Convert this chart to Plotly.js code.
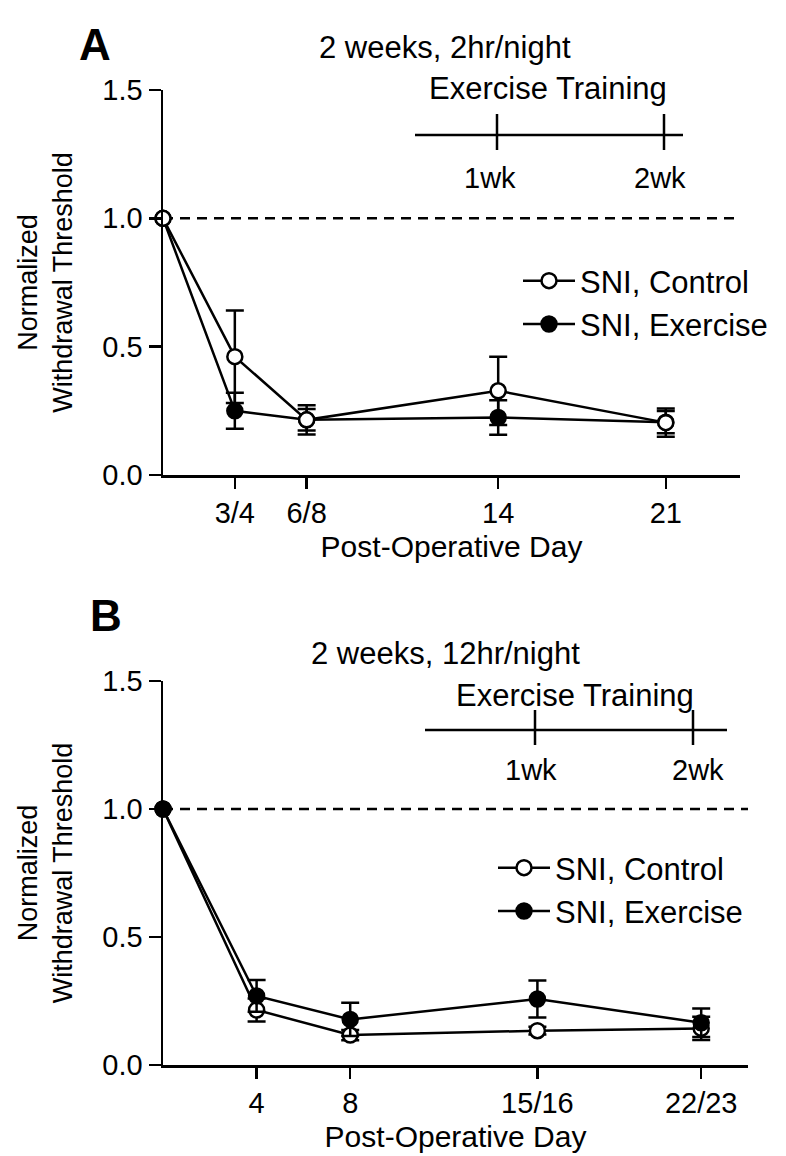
<!DOCTYPE html>
<html>
<head>
<meta charset="utf-8">
<script src="https://cdn.plot.ly/plotly-3.0.1.min.js"></script>
<style>
  html, body { margin: 0; padding: 0; background: #fff; }
  #chart { width: 786px; height: 1156px; }
</style>
</head>
<body>
<div id="chart"></div>
<script>
// ---------- Panel A data (2 weeks, 2hr/night) ----------
const daysA = [0, 3, 6, 14, 21];
const tickValsA = [3, 6, 14, 21];
const tickTextA = ["3/4", "6/8", "14", "21"];
const controlA = [1.0, 0.461, 0.215, 0.328, 0.204];
const controlErrA = [0, 0.18, 0.057, 0.133, 0.055];
const exerciseA = [1.0, 0.25, 0.215, 0.224, 0.206];
const exerciseErrA = [0, 0.07, 0.042, 0.067, 0.043];

// ---------- Panel B data (2 weeks, 12hr/night) ----------
const daysB = [0, 4, 8, 16, 23];
const tickValsB = [4, 8, 16, 23];
const tickTextB = ["4", "8", "15/16", "22/23"];
const controlB = [1.0, 0.215, 0.117, 0.134, 0.143];
const controlErrB = [0, 0.045, 0.02, 0.015, 0.045];
const exerciseB = [1.0, 0.27, 0.178, 0.258, 0.165];
const exerciseErrB = [0, 0.062, 0.065, 0.072, 0.056];

const yTickVals = [0, 0.5, 1.0, 1.5];
const yTickText = ["0.0", "0.5", "1.0", "1.5"];
const baseline = 1.0;

const FONT = "Liberation Sans, Arial, Helvetica, sans-serif";
const W = 786, H = 1156;
const px = v => v / W;
const py = v => 1 - v / H;

function series(x, y, err, name, fill, xa, ya, legend) {
  return {
    type: "scatter", mode: "lines+markers",
    x: x, y: y, name: name,
    xaxis: xa, yaxis: ya, legend: legend,
    cliponaxis: false,
    line: { color: "#000", width: 2.5 },
    marker: { symbol: "circle", size: 15, color: fill, line: { color: "#000", width: 2.5 } },
    error_y: { type: "data", array: err, visible: true, color: "#000", thickness: 2.5, width: 9 }
  };
}

const data = [
  series(daysA, exerciseA, exerciseErrA, "SNI, Exercise", "#000", "x", "y", "legend"),
  series(daysA, controlA, controlErrA, "SNI, Control", "#fff", "x", "y", "legend"),
  series(daysB, controlB, controlErrB, "SNI, Control", "#fff", "x2", "y2", "legend2"),
  series(daysB, exerciseB, exerciseErrB, "SNI, Exercise", "#000", "x2", "y2", "legend2")
];

function xAxis(domain, range, vals, text, anchor) {
  return {
    domain: domain, range: range, anchor: anchor,
    showgrid: false, zeroline: false,
    showline: true, linecolor: "#000", linewidth: 2.5,
    ticks: "outside", ticklen: 11, tickwidth: 2.5, tickcolor: "#000",
    tickvals: vals, ticktext: text,
    tickfont: { family: FONT, size: 29, color: "#000" },
    title: { text: "Post-Operative Day", font: { family: FONT, size: 30, color: "#000" }, standoff: 8 },
    automargin: false, fixedrange: true
  };
}
function yAxis(domain, anchor) {
  return {
    domain: domain, range: [0, 1.5], anchor: anchor,
    showgrid: false, zeroline: false,
    showline: true, linecolor: "#000", linewidth: 2.5,
    ticks: "outside", ticklen: 12, tickwidth: 2.5, tickcolor: "#000",
    tickvals: yTickVals, ticktext: yTickText,
    tickfont: { family: FONT, size: 29, color: "#000" },
    title: { text: "Normalized<br>Withdrawal Threshold", font: { family: FONT, size: 27, color: "#000" }, standoff: 22 },
    automargin: false, fixedrange: true
  };
}

function ann(text, x, y, size, bold) {
  return {
    xref: "paper", yref: "paper", x: px(x), y: py(y),
    xanchor: "center", yanchor: "middle", showarrow: false,
    text: bold ? "<b>" + text + "</b>" : text,
    font: { family: FONT, size: size, color: "#000" }
  };
}
function seg(x0, y0, x1, y1) {
  return { type: "line", xref: "paper", yref: "paper",
    x0: px(x0), y0: py(y0), x1: px(x1), y1: py(y1),
    line: { color: "#000", width: 2.5 } };
}

const layout = {
  width: W, height: H,
  margin: { l: 0, r: 0, t: 0, b: 0 },
  paper_bgcolor: "#fff", plot_bgcolor: "#fff",
  font: { family: FONT, color: "#000" },
  xaxis: xAxis([px(163), px(740)], [0, 24.1], tickValsA, tickTextA, "y"),
  yaxis: yAxis([py(475), py(90)], "x"),
  xaxis2: xAxis([px(163), px(748)], [0, 25], tickValsB, tickTextB, "y2"),
  yaxis2: yAxis([py(1065), py(681)], "x2"),
  legend: {
    x: px(518), y: py(254), xanchor: "left", yanchor: "top",
    bgcolor: "rgba(0,0,0,0)", borderwidth: 0, traceorder: "reversed",
    itemwidth: 52,
    font: { family: FONT, size: 31, color: "#000" }
  },
  legend2: {
    x: px(493), y: py(841), xanchor: "left", yanchor: "top",
    bgcolor: "rgba(0,0,0,0)", borderwidth: 0,
    itemwidth: 52,
    font: { family: FONT, size: 31, color: "#000" }
  },
  shapes: [
    { type: "line", xref: "x domain", yref: "y", x0: 0, x1: 1, y0: baseline, y1: baseline,
      layer: "below", line: { color: "#000", width: 2.5, dash: "10px,7px" } },
    { type: "line", xref: "x2 domain", yref: "y2", x0: 0, x1: 1, y0: baseline, y1: baseline,
      layer: "below", line: { color: "#000", width: 2.5, dash: "10px,7px" } },
    seg(415, 135, 683, 135), seg(497, 114, 497, 150), seg(664, 114, 664, 150),
    seg(425, 730, 727, 730), seg(535, 710, 535, 745), seg(693, 710, 693, 745)
  ],
  annotations: [
    ann("A", 95, 45, 44, true),
    ann("2 weeks, 2hr/night", 445, 47, 31),
    ann("Exercise Training", 548, 88, 31),
    ann("1wk", 490, 178, 29),
    ann("2wk", 660, 178, 29),
    ann("B", 106, 615, 44, true),
    ann("2 weeks, 12hr/night", 445, 653, 31),
    ann("Exercise Training", 575, 695, 31),
    ann("1wk", 531, 770, 29),
    ann("2wk", 698, 770, 29)
  ],
  showlegend: true
};

Plotly.newPlot("chart", data, layout, { staticPlot: true, displayModeBar: false });
</script>
</body>
</html>
